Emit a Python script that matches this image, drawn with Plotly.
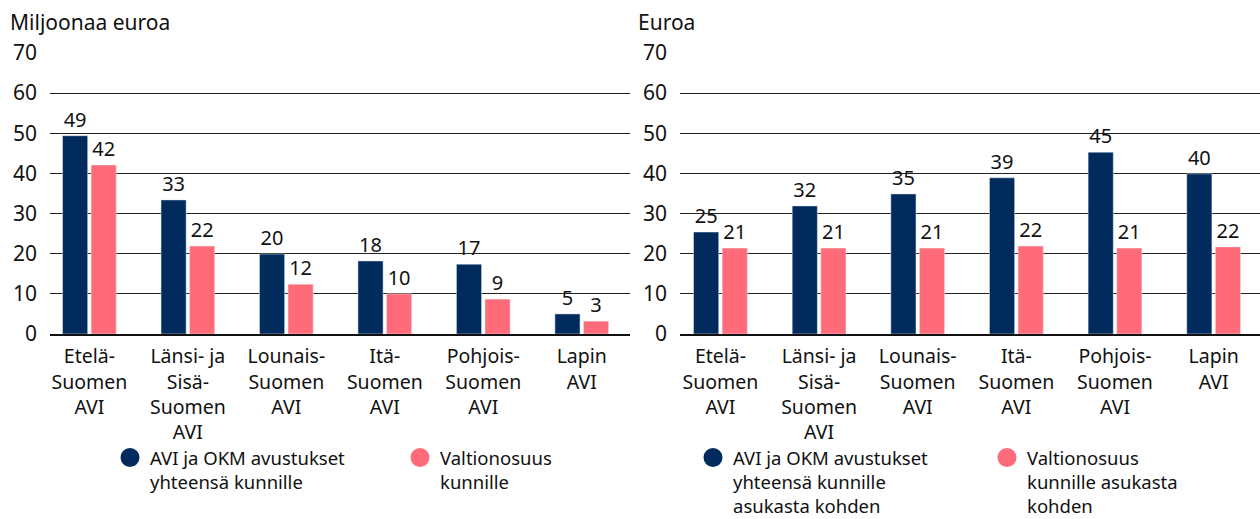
import plotly.graph_objects as go

categories = ["Etelä-Suomen AVI", "Länsi- ja Sisä-Suomen AVI", "Lounais-Suomen AVI",
              "Itä-Suomen AVI", "Pohjois-Suomen AVI", "Lapin AVI"]
tick_labels = ["Etelä-<br>Suomen<br>AVI", "Länsi- ja<br>Sisä-<br>Suomen<br>AVI",
               "Lounais-<br>Suomen<br>AVI", "Itä-<br>Suomen<br>AVI",
               "Pohjois-<br>Suomen<br>AVI", "Lapin<br>AVI"]
y_ticks = [0, 10, 20, 30, 40, 50, 60, 70]

avi_total = [49.4, 33.4, 19.9, 18.2, 17.4, 5.0]
vos_total = [42.1, 21.9, 12.4, 10.0, 8.7, 3.2]
avi_per_capita = [25.4, 31.9, 34.9, 38.9, 45.3, 39.9]
vos_per_capita = [21.4, 21.4, 21.4, 21.9, 21.4, 21.7]

NAVY = "#002b5c"
PINK = "#ff6b78"
FONT = "Noto Sans"
W, H = 1260, 519
PLOT_TOP, PLOT_BOTTOM = 53, 334

fig = go.Figure()

def add_bars(xaxis, yaxis, a, b):
    for vals, col in ((a, NAVY), (b, PINK)):
        fig.add_trace(go.Bar(x=categories, y=vals, marker_color=col, xaxis=xaxis, yaxis=yaxis,
                             texttemplate="%{y:.0f}", textposition="outside", cliponaxis=False,
                             textfont=dict(size=20, color="#111"), showlegend=False))

add_bars("x", "y", avi_total, vos_total)
add_bars("x2", "y2", avi_per_capita, vos_per_capita)

def add_legend_item(name, color, legend):
    fig.add_trace(go.Scatter(x=[None], y=[None], mode="markers", name=name, legend=legend,
                             marker=dict(symbol="circle", size=16, color=color,
                                         line=dict(color=color, width=3)),
                             showlegend=True))

add_legend_item("AVI ja OKM avustukset<br>yhteensä kunnille", NAVY, "legend")
add_legend_item("Valtionosuus<br>kunnille", PINK, "legend")
add_legend_item("AVI ja OKM avustukset<br>yhteensä kunnille<br>asukasta kohden", NAVY, "legend2")
add_legend_item("Valtionosuus<br>kunnille asukasta<br>kohden", PINK, "legend2")

yaxis_common = dict(range=[0, 70], tickvals=y_ticks, automargin=False,
                    showgrid=True, gridcolor="#222", gridwidth=1,
                    zeroline=False, showline=False, ticks="",
                    tickfont=dict(size=21, color="#111"), ticklabelstandoff=12)
xaxis_common = dict(type="category", showgrid=False, showline=True, linecolor="#111",
                    linewidth=1.5, ticks="", tickfont=dict(size=19.5, color="#111"),
                    ticklabelstandoff=4,
                    automargin=False, tickvals=categories, ticktext=tick_labels)

def py(p):
    return (PLOT_BOTTOM - p) / (PLOT_BOTTOM - PLOT_TOP)

fig.update_layout(
    width=W, height=H,
    margin=dict(l=0, r=0, t=PLOT_TOP, b=H - PLOT_BOTTOM, autoexpand=False),
    paper_bgcolor="white", plot_bgcolor="white",
    font=dict(family=FONT, color="#111"),
    barmode="group", bargap=0.42, bargroupgap=0.12,
    xaxis=dict(domain=[50 / W, 630 / W], range=[-0.40, 5.49], anchor="y", **xaxis_common),
    yaxis=dict(domain=[0, 1], anchor="x", **yaxis_common),
    xaxis2=dict(domain=[680 / W, 1.0], range=[-0.41, 5.47], anchor="y2", **xaxis_common),
    yaxis2=dict(domain=[0, 1], anchor="x2", **yaxis_common),
    legend=dict(orientation="h", x=110 / W, y=1 - 439 / H, xanchor="left", yanchor="top",
                yref="container", xref="container",
                font=dict(size=18.5, color="#111"), valign="top",
                entrywidth=245, entrywidthmode="pixels", traceorder="normal"),
    legend2=dict(orientation="h", x=693 / W, y=1 - 439 / H, xanchor="left", yanchor="top",
                 yref="container", xref="container",
                 font=dict(size=18.5, color="#111"), valign="top",
                 entrywidth=249, entrywidthmode="pixels", traceorder="normal"),
    annotations=[
        dict(text="Miljoonaa euroa", x=8 / W, y=py(22), xref="paper", yref="paper",
             xanchor="left", yanchor="middle", showarrow=False,
             font=dict(size=21, color="#111")),
        dict(text="Euroa", x=636 / W, y=py(22), xref="paper", yref="paper",
             xanchor="left", yanchor="middle", showarrow=False,
             font=dict(size=21, color="#111")),
    ],
)

fig.write_html("out.html", config={"displayModeBar": False},
               post_script="document.body.style.margin='0';")
